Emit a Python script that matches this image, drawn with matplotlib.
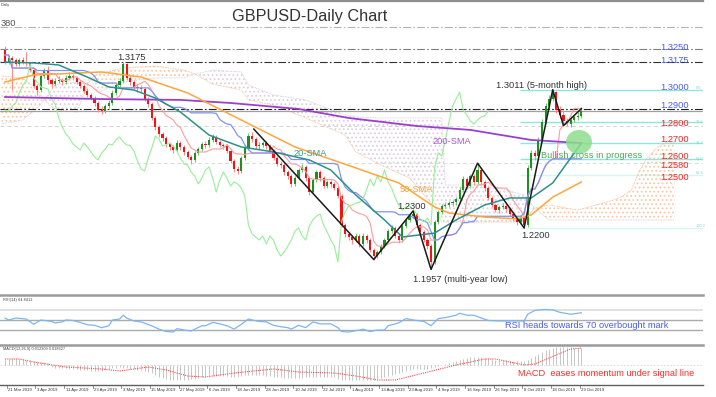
import matplotlib
matplotlib.use("Agg")
import matplotlib.pyplot as plt
from matplotlib.lines import Line2D
from matplotlib.patches import Ellipse
import numpy as np
import pandas as pd

plt.rcParams['font.family'] = ['Liberation Sans', 'DejaVu Sans']
plt.rcParams['hatch.linewidth'] = 0.8

W, H = 716, 397

# ---- daily candles, prices in pips (1.3000 = 13000); open = previous close
first_open = 13244
close = [13173, 13197, 13185, 13162, 13185, 13173, 13168, 13126, 13033, 13009,
         13091, 13126, 13068, 13044, 13062, 13068, 13056, 13080, 13091, 13080,
         13056, 13033, 13003, 12980, 12962, 12933, 12892, 12886, 12915, 12933,
         12992, 13039, 13062, 13162, 13080, 13056, 13027, 13021, 13015, 12956,
         12927, 12845, 12792, 12751, 12728, 12692, 12675, 12657, 12698, 12675,
         12646, 12616, 12599, 12640, 12663, 12692, 12687, 12716, 12734, 12704,
         12687, 12681, 12651, 12593, 12546, 12534, 12610, 12669, 12739, 12722,
         12681, 12687, 12698, 12681, 12651, 12610, 12575, 12569, 12528, 12505,
         12458, 12493, 12540, 12558, 12493, 12411, 12481, 12528, 12493, 12446,
         12470, 12458, 12434, 12387, 12217, 12165, 12147, 12129, 12153, 12106,
         12153, 12129, 12071, 12036, 12059, 12094, 12129, 12182, 12200, 12153,
         12129, 12211, 12247, 12270, 12282, 12217, 12176, 12129, 12094, 12000,
         12235, 12294, 12329, 12335, 12346, 12350, 12370, 12423, 12487, 12446,
         12505, 12470, 12540, 12470, 12434, 12376, 12335, 12305, 12323, 12329,
         12311, 12282, 12253, 12235, 12258, 12217, 12552, 12640, 12622, 12716,
         12821, 12915, 12956, 12997, 12892, 12863, 12827, 12810, 12833, 12851,
         12857, 12886]
high = [13267, 13214, 13209, 13197, 13197, 13203, 13232, 13173, 13138, 13044,
        13103, 13138, 13150, 13080, 13080, 13091, 13080, 13097, 13115, 13103,
        13091, 13068, 13044, 13021, 12992, 12974, 12945, 12915, 12927, 12951,
        13009, 13050, 13080, 13175, 13168, 13097, 13068, 13044, 13039, 13027,
        12968, 12939, 12857, 12804, 12763, 12739, 12704, 12687, 12716, 12710,
        12687, 12657, 12628, 12651, 12675, 12704, 12710, 12734, 12751, 12745,
        12716, 12698, 12692, 12663, 12605, 12563, 12622, 12681, 12757, 12763,
        12734, 12704, 12710, 12710, 12692, 12663, 12622, 12593, 12581, 12540,
        12516, 12505, 12552, 12575, 12569, 12505, 12493, 12540, 12540, 12505,
        12481, 12481, 12470, 12446, 12399, 12229, 12176, 12159, 12170, 12165,
        12170, 12165, 12141, 12082, 12071, 12106, 12141, 12194, 12217, 12211,
        12165, 12223, 12258, 12288, 12300, 12290, 12229, 12188, 12141, 12106,
        12247, 12305, 12341, 12352, 12358, 12364, 12381, 12440, 12505, 12499,
        12516, 12516, 12580, 12552, 12481, 12446, 12387, 12346, 12335, 12346,
        12341, 12323, 12294, 12264, 12276, 12270, 12569, 12657, 12657, 12734,
        12839, 12933, 12980, 13011, 13003, 12915, 12892, 12845, 12857, 12868,
        12880, 12898]
low = [13162, 13162, 13009, 13150, 13150, 13162, 13150, 13115, 13021, 12980,
       12997, 13080, 13044, 13021, 13033, 13050, 13039, 13044, 13068, 13068,
       13044, 13021, 12992, 12968, 12951, 12915, 12880, 12868, 12874, 12904,
       12921, 12980, 13027, 13050, 13068, 13039, 13015, 12997, 12997, 12945,
       12910, 12833, 12775, 12734, 12710, 12675, 12657, 12640, 12646, 12657,
       12628, 12605, 12575, 12587, 12628, 12651, 12669, 12675, 12704, 12692,
       12675, 12663, 12640, 12581, 12528, 12516, 12522, 12599, 12657, 12704,
       12663, 12663, 12675, 12663, 12640, 12599, 12563, 12552, 12511, 12487,
       12440, 12446, 12481, 12528, 12476, 12393, 12399, 12470, 12476, 12434,
       12434, 12440, 12423, 12376, 12206, 12147, 12129, 12106, 12118, 12088,
       12094, 12112, 12059, 12015, 12024, 12047, 12082, 12118, 12170, 12141,
       12112, 12118, 12200, 12235, 12258, 12206, 12165, 12118, 12077, 11957,
       11989, 12223, 12282, 12317, 12323, 12329, 12335, 12358, 12411, 12429,
       12434, 12452, 12458, 12452, 12417, 12364, 12323, 12294, 12288, 12311,
       12294, 12270, 12241, 12217, 12223, 12200, 12206, 12540, 12599, 12610,
       12704, 12810, 12904, 12945, 12874, 12845, 12810, 12798, 12792, 12821,
       12833, 12845]

# moving averages (bar index, pips)
sma20_bar = [0, 8, 15, 23, 29, 36, 42, 49, 57, 66, 75, 85, 91, 98, 106, 111, 120, 126, 134, 141, 147, 153, 157, 161]
sma20_val = [13173, 13168, 13156, 13085, 13027, 13009, 12962, 12880, 12745, 12675, 12646, 12599, 12540, 12393,
             12247, 12147, 12170, 12247, 12335, 12376, 12376, 12464, 12581, 12698]
sma50_bar = [0, 8, 27, 38, 51, 66, 81, 98, 110, 120, 124, 134, 143, 147, 153, 161]
sma50_val = [13056, 13097, 13115, 13085, 12992, 12833, 12675, 12552, 12464, 12323, 12288, 12264, 12253, 12276, 12381, 12470]
sma200_bar = [0, 27, 49, 63, 82, 96, 115, 130, 147, 161]
sma200_val = [12968, 12956, 12951, 12933, 12898, 12845, 12798, 12775, 12716, 12698]

# ichimoku cloud edges (bar index, span A, span B in pips)
cloud_bar = [-1, 5, 9, 11, 14, 20, 22, 24, 26, 33, 42, 50, 53, 58, 66, 68, 75, 84, 95, 98, 105, 113, 120, 122,
             123, 135, 145, 148, 152, 160, 170, 172, 175, 177, 179, 182, 185, 187]
span_a = [13091, 13080, 13009, 12951, 12892, 12880, 12980, 13080, 13103, 13138, 13150, 13126, 13103, 13044, 13009,
          12951, 12921, 12845, 12745, 12646, 12569, 12493, 12323, 12235, 12235, 12235, 12235, 12317, 12335, 12305,
          12364, 12381, 12423, 12528, 12599, 12669, 12704, 12704]
span_b = [12810, 12833, 12904, 12951, 13039, 13056, 13068, 13068, 12997, 13056, 13080, 13080, 13103, 13126, 13115,
          13039, 12980, 12951, 12863, 12851, 12845, 12845, 12845, 12845, 12452, 12452, 12393, 12317, 12247, 12247,
          12247, 12247, 12247, 12247, 12247, 12247, 12247, 12247]

# RSI(14)
rsi_bar = [0, 1, 3, 6, 8, 10, 13, 14, 16, 17, 19, 21, 23, 25, 27, 29, 30, 32, 33, 34, 36, 38, 41, 43, 45, 47, 48,
           51, 52, 55, 56, 58, 60, 62, 64, 66, 68, 69, 71, 73, 75, 77, 79, 80, 82, 84, 86, 88, 91, 93, 94, 96, 99,
           100, 102, 104, 106, 107, 110, 112, 114, 117, 119, 121, 123, 126, 127, 129, 131, 132, 135, 138, 141, 145,
           146, 148, 151, 153, 155, 158, 160, 161]
rsi_val = [54, 50, 54, 52, 41, 50, 47, 44, 46, 50, 49, 45, 40, 39, 34, 38, 50, 52, 60, 54, 48, 46, 38, 31, 26, 25, 32,
           28, 27, 38, 38, 45, 42, 38, 31, 41, 52, 50, 47, 46, 39, 36, 34, 31, 39, 34, 46, 42, 42, 34, 26, 25, 29,
           31, 26, 29, 29, 38, 44, 53, 50, 47, 38, 53, 55, 60, 64, 60, 60, 57, 49, 48, 48, 48,
           62, 70, 72, 71, 66, 62, 64, 65]

# MACD(12,26,9) main bars (units of 0.001) and signal line
macd_main = [6, 6, 6, 6, 6, 6, 5, 5, 4, 3, 3, 3, 2,
             -2, -3, -3, -3, -3, -4, -4, -4, -5, -5, -5, -6, -6, -6, -6, -5, -4, -3, -3, -2, -3, -3, -4, -4, -5, -5, -6, -7,
             -8, -10, -12, -13, -14, -15, -15, -15, -15, -15, -15, -14, -14, -13, -12, -12, -11, -11, -11, -11,
             -11, -11, -12, -12, -12, -11, -10, -10, -10, -10, -10, -10, -11, -11, -12, -12, -12, -13, -13, -13, -13,
             -13, -13, -12, -12, -12, -12, -12, -12, -12, -12, -12, -14, -15, -15, -15, -15, -15,
             -15, -15, -15, -15, -15, -14, -13, -12, -11, -10, -9, -8, -7, -6,
             -5, -4, -4, -4, -4, -4, -3, -2, -1, 0, 1, 2, 3,
             4, 5, 6, 7, 8, 8, 8, 8, 7, 6, 6, 5, 5, 5, 5,
             4, 4, 4, 4, 4, 5, 7, 9, 11, 13, 15, 16, 17, 18, 18, 18, 18, 18, 17, 17, 17]
signal_bar = [0, 4, 8, 17, 27, 32, 40, 45, 51, 56, 64, 75, 82, 92, 98, 104, 109, 117, 126, 134, 137, 145, 148, 154, 158, 161]
signal_val = [6, 6, 3, -2, -4, -6, -2, -5, -11, -12, -8, -4, -7, -8, -11, -15, -15, -8, 0, 6, 6, 0, 1, 10, 16, 17]

# swing lines and horizontal levels
zig_bar = [69.5, 103, 114, 119, 132, 145, 153, 156, 161]
zig_price = [1.2780, 1.2015, 1.2300, 1.1957, 1.2580, 1.2200, 1.3011, 1.2800, 1.2900]
fib_levels = [1.3011, 1.2820, 1.2701, 1.2606, 1.2510, 1.2200]
fib_names = ['0.0', '23.6', '38.2', '50.0', '61.8', '100.0']
right_labels = ['1.3250', '1.3175', '1.3000', '1.2900', '1.2800', '1.2700', '1.2600', '1.2580', '1.2500']
dates = ['21 Mar 2019', '3 Apr 2019', '11 Apr 2019', '23 Apr 2019', '3 May 2019', '15 May 2019', '27 May 2019',
         '6 Jun 2019', '18 Jun 2019', '28 Jun 2019', '10 Jul 2019', '22 Jul 2019', '1 Aug 2019', '13 Aug 2019',
         '23 Aug 2019', '4 Sep 2019', '16 Sep 2019', '26 Sep 2019', '8 Oct 2019', '18 Oct 2019', '29 Oct 2019']

# ---- layout helpers (pixel coordinates of the 716x397 picture)
BAR0, BARW = 5.0, 3.58


def fx(px):
    return px / W


def fy(py):
    return 1 - py / H


def price_at(py):
    return (13537 - 5.865 * py) / 1e4


fig = plt.figure(figsize=(W / 100, H / 100), dpi=100)
fig.patch.set_facecolor('white')


def panel(top, bottom):
    a = fig.add_axes([0, fy(bottom), 703 / W, (bottom - top) / H])
    a.set_xlim(-BAR0 / BARW, (703 - BAR0) / BARW)
    a.axis('off')
    return a


def ptext(x, y, s, **kw):
    fig.text(fx(x), fy(y), s, **kw)


c = np.array(close) / 1e4
hi = np.array(high) / 1e4
lo = np.array(low) / 1e4
o = np.r_[first_open / 1e4, c[:-1]]
n = len(c)
x = np.arange(n)

# ---- main price window
ax = panel(0, 293)
ax.set_ylim(price_at(293), price_at(0))

cb = np.array(cloud_bar)
sa = np.array(span_a) / 1e4
sb = np.array(span_b) / 1e4
ax.fill_between(cb, sa, sb, where=sa >= sb, interpolate=True, facecolor='none',
                edgecolor='#F8C9A6', hatch='....', linewidth=0, zorder=1)
ax.fill_between(cb, sa, sb, where=sa < sb, interpolate=True, facecolor='none',
                edgecolor='#DDD0DD', hatch='....', linewidth=0, zorder=1)
ax.plot(cb, sa, color='#F5B68A', lw=0.6, ls=(0, (1, 1)), zorder=1)
ax.plot(cb, sb, color='#D6C6D6', lw=0.6, ls=(0, (1, 1)), zorder=1)

dashdot = (0, (7, 2, 1.5, 2))
ax.axhline(1.3378, color='#B4B4B4', lw=0.8, ls=dashdot, zorder=2)
ax.axhline(1.3250, color='#808080', lw=0.8, ls=dashdot, zorder=2)
ax.axhline(1.3175, color='#303030', lw=0.8, ls=dashdot, zorder=2)
ax.axhline(1.2900, color='#202020', lw=0.8, ls=dashdot, zorder=2)
ax.axhline(c[-1], color='#A0A0A0', lw=0.9, zorder=2)
ax.axhline(1.2800, color='#D4D4D4', lw=0.7, ls=(0, (4, 3)), zorder=2)
ax.axhline(1.2580, color='#DADADA', lw=0.7, ls=(0, (4, 3)), zorder=2)
fib_alpha = [1, 1, 1, 1, 0.35, 0.35]
for lvl, a_ in zip(fib_levels, fib_alpha):
    ax.hlines(lvl, 143.8, 200, color='#8EE6DC', lw=1.0, alpha=a_, zorder=2)

# green marker circle behind the lines
fig.add_artist(Ellipse((fx(579), fy(142)), 26 / W, 24 / H, transform=fig.transFigure,
                       facecolor='#8EDD8E', edgecolor='none', alpha=0.85, zorder=0.5))

# candles
up = c >= o
body_lo = np.minimum(o, c)
body_h = np.maximum(np.abs(c - o), 0.0002)
ax.vlines(x[up], lo[up], hi[up], color='#77C477', lw=0.8, zorder=3)
ax.vlines(x[~up], lo[~up], hi[~up], color='#FF8A8A', lw=0.8, zorder=3)
ax.bar(x[up], body_h[up], bottom=body_lo[up], width=0.6, color='#1F8F1F', lw=0, zorder=4)
ax.bar(x[~up], body_h[~up], bottom=body_lo[~up], width=0.6, color='#F21414', lw=0, zorder=4)

# ichimoku lines from the candles
hs, ls_ = pd.Series(hi), pd.Series(lo)
tenkan = (hs.rolling(9, min_periods=1).max() + ls_.rolling(9, min_periods=1).min()) / 2
kijun = (hs.rolling(26, min_periods=1).max() + ls_.rolling(26, min_periods=1).min()) / 2
ax.plot(x, tenkan, color='#FF9C9C', lw=0.8, zorder=5)
ax.plot(x, kijun, color='#7D93F2', lw=0.9, zorder=5)
ax.plot(x[:-26], c[26:], color='#98EE98', lw=0.8, zorder=5)

ax.plot(sma200_bar, np.array(sma200_val) / 1e4, color='#9B3FD0', lw=1.3, zorder=6)
ax.plot(sma50_bar, np.array(sma50_val) / 1e4, color='#FFA63A', lw=1.1, zorder=6)
ax.plot(sma20_bar, np.array(sma20_val) / 1e4, color='#2F8F8F', lw=1.1, zorder=6)
ax.plot(zig_bar, zig_price, color='#1A1A1A', lw=1.1, zorder=7)

# ---- RSI window
ax_rsi = panel(296, 344)
ax_rsi.set_ylim(0, 100)
ax_rsi.axhline(70, color='#DCDCDC', lw=1.2)
ax_rsi.axhline(50, color='#ABABAB', lw=1.0)
ax_rsi.axhline(30, color='#ABABAB', lw=1.0)
ax_rsi.plot(rsi_bar, rsi_val, color='#7CB6F2', lw=0.9)

# ---- MACD window
ax_m = panel(345, 385)
ax_m.set_ylim(-0.020, 0.020)
ax_m.axhline(0, color='#D8D8D8', lw=0.6, ls=(0, (2, 2)))
ax_m.vlines(x, 0, np.array(macd_main) / 1e3, color='#BDBDBD', lw=0.6)
ax_m.plot(signal_bar, np.array(signal_val) / 1e3, color='#FF4A4A', lw=0.8, ls=(0, (1, 1)))

# ---- window separators
for yy, lw_, col in [(0.8, 1.6, '#8E8E8E'), (295, 1.8, '#9A9A9A'), (344.5, 1.8, '#9A9A9A'), (385, 1.0, '#606060')]:
    fig.add_artist(Line2D([0, fx(703)], [fy(yy), fy(yy)], color=col, lw=lw_, transform=fig.transFigure))

# ---- date axis
for k, d in enumerate(dates):
    px = BAR0 + BARW * (8 * k + 0.5)
    fig.add_artist(Line2D([fx(px), fx(px)], [fy(385), fy(388)], color='#606060', lw=0.5,
                          transform=fig.transFigure))
    ptext(px + 1.5, 390, d, fontsize=3.1, color='#333333', ha='left', va='center')

# ---- texts
ptext(310, 16, 'GBPUSD-Daily Chart', fontsize=11.7, color='#333333', ha='center', va='center')
ptext(1, 5, 'Daily', fontsize=3, color='#444444', ha='left', va='center')
ptext(0.5, 23, '380', fontsize=6.7, color='#555555', ha='left', va='center')
ptext(3, 300, 'RSI(14) 64.8412', fontsize=2.8, color='#444444', ha='left', va='center')
ptext(3, 349, 'MACD(12,26,9) 0.012309 0.018627', fontsize=2.8, color='#444444', ha='left', va='center')

right_y = [48, 60.5, 88, 106, 123, 140, 157, 166, 177.5]
for i, (t, yy) in enumerate(zip(right_labels, right_y)):
    ptext(660, yy, t, fontsize=6.7, color='#4A5CF0' if i < 4 else '#FF2020', ha='left', va='center')
fib_y = [88, 122, 143, 159, 173, 226]
for t, yy in zip(fib_names, fib_y):
    ptext(696, yy, t, fontsize=2.8, color='#7FD8D0', ha='left', va='center')

dark = '#333333'
ptext(131, 58, '1.3175', fontsize=6.7, color=dark, ha='center', va='center')
ptext(541, 86, '1.3011 (5-month high)', fontsize=6.7, color=dark, ha='center', va='center')
ptext(412, 206, '1.2300', fontsize=6.7, color=dark, ha='center', va='center')
ptext(536, 235, '1.2200', fontsize=6.7, color=dark, ha='center', va='center')
ptext(460, 280, '1.1957 (multi-year low)', fontsize=6.7, color=dark, ha='center', va='center')
ptext(310, 153, '20-SMA', fontsize=6.7, color='#3A9A9A', ha='center', va='center')
ptext(416, 189, '50-SMA', fontsize=6.7, color='#F5A030', ha='center', va='center')
ptext(452, 142, '200-SMA', fontsize=6.7, color='#A855D8', ha='center', va='center')
ptext(592, 156, 'Bullish cross in progress', fontsize=6.7, color='#4DAA5A', ha='center', va='center')
ptext(587, 325, 'RSI heads towards 70 overbought mark', fontsize=6.7, color='#4A5CF0', ha='center', va='center')
ptext(606, 374, 'MACD  eases momentum under signal line', fontsize=6.7, color='#FF2B2B', ha='center', va='center')

fig.savefig('out.png', dpi=100, facecolor='white')
